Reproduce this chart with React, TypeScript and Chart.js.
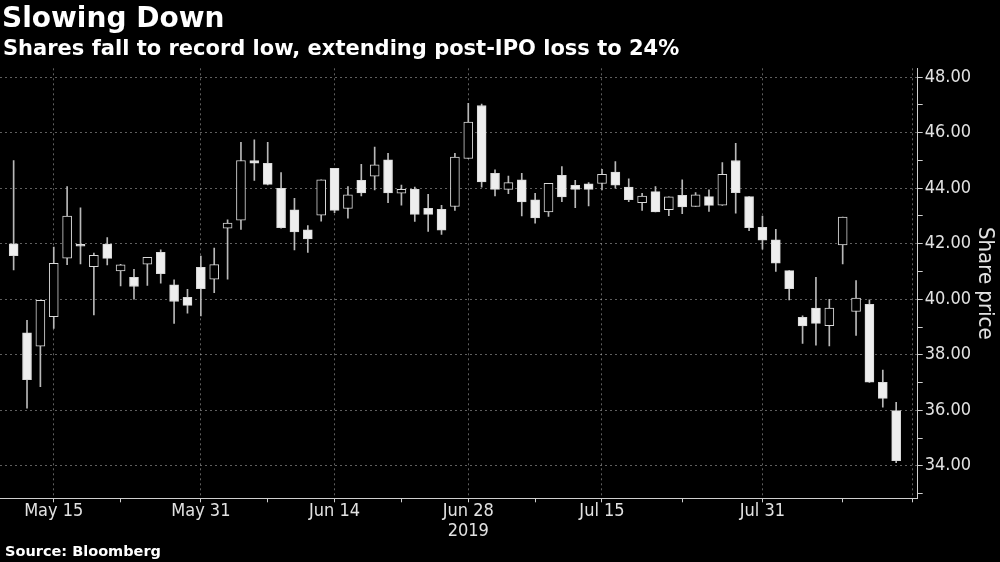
import React, { useEffect, useRef } from "react";
import { Chart, registerables } from "chart.js";

Chart.register(...registerables);

// Trading-day index (0 = May 10, 2019 ... 66 = Aug 14, 2019)
const dayIndex = [
  0, 1, 2, 3, 4, 5, 6, 7, 8, 9, 10, 11, 12, 13, 14, 15, 16, 17, 18, 19, 20, 21, 22,
  23, 24, 25, 26, 27, 28, 29, 30, 31, 32, 33, 34, 35, 36, 37, 38, 39, 40, 41, 42, 43,
  44, 45, 46, 47, 48, 49, 50, 51, 52, 53, 54, 55, 56, 57, 58, 59, 60, 61, 62, 63, 64,
  65, 66,
];

const opens = [
  42.0, 38.79, 38.31, 39.37, 41.48, 41.98, 41.17, 41.99, 41.02, 40.79, 41.26, 41.69,
  40.52, 40.07, 41.15, 40.72, 42.56, 42.85, 45.0, 44.9, 44.0, 43.22, 42.5, 43.03,
  44.72, 43.27, 44.28, 44.43, 45.02, 43.82, 43.96, 43.28, 43.24, 43.34, 45.07, 46.98,
  44.54, 43.96, 44.3, 43.58, 43.15, 44.46, 44.1, 44.16, 44.17, 44.58, 44.04, 43.48,
  43.88, 43.23, 43.74, 43.34, 43.7, 43.39, 45.0, 43.7, 42.59, 42.14, 41.03, 39.35,
  39.68, 39.05, 41.96, 39.56, 39.82, 37.01, 35.99,
];

const highs = [
  45.0, 39.24, 39.96, 41.88, 44.06, 43.29, 41.66, 42.22, 41.26, 41.08, 41.51, 41.78,
  40.7, 40.36, 41.56, 41.84, 42.86, 45.65, 45.74, 45.65, 44.56, 43.64, 42.65, 44.3,
  44.72, 44.06, 44.86, 45.48, 45.26, 44.11, 44.04, 43.78, 43.38, 45.26, 47.06, 47.03,
  44.66, 44.44, 44.54, 43.82, 44.18, 44.78, 44.28, 44.2, 44.68, 44.96, 44.34, 43.82,
  44.06, 43.69, 44.3, 43.84, 43.94, 44.92, 45.62, 43.7, 43.0, 42.52, 41.03, 39.4,
  40.79, 40.0, 42.96, 40.67, 39.98, 37.45, 36.29,
];

const lows = [
  41.06, 36.08, 36.85, 38.95, 41.25, 41.27, 39.44, 41.24, 40.48, 40.0, 40.5, 40.58,
  39.13, 39.5, 39.4, 40.24, 40.72, 42.52, 44.28, 44.12, 42.56, 41.78, 41.69, 42.81,
  43.12, 42.92, 43.72, 43.94, 43.48, 43.39, 42.8, 42.44, 42.34, 43.2, 45.07, 44.04,
  43.72, 43.8, 43.0, 42.74, 42.98, 43.52, 43.3, 43.36, 43.94, 44.0, 43.52, 43.2,
  43.15, 43.01, 43.08, 43.34, 43.16, 43.38, 43.1, 42.47, 41.8, 41.0, 39.98, 38.41,
  38.35, 38.32, 41.27, 38.7, 37.0, 36.11, 34.11,
];

const closes = [
  41.57, 37.1, 39.96, 41.29, 43.0, 41.91, 41.58, 41.47, 41.24, 40.46, 41.51, 40.92,
  39.92, 39.78, 40.38, 41.25, 42.74, 45.0, 44.9, 44.14, 42.58, 42.43, 42.17, 44.3,
  43.2, 43.76, 43.83, 44.84, 43.83, 43.96, 43.06, 43.06, 42.49, 45.12, 46.38, 44.23,
  43.96, 44.2, 43.51, 42.93, 44.18, 43.69, 43.96, 43.96, 44.5, 44.11, 43.59, 43.72,
  43.15, 43.69, 43.33, 43.76, 43.38, 44.5, 43.84, 42.58, 42.13, 41.3, 40.38, 39.04,
  39.13, 39.68, 42.96, 40.04, 37.01, 36.43, 34.19,
];

// X axis ticks (trading-day positions)
const xMajorTicks = [3, 14, 24, 34, 44, 56, 67.2];
const xMajorLabels: (string | string[])[] = [
  "May 15",
  "May 31",
  "Jun 14",
  ["Jun 28", "2019"],
  "Jul 15",
  "Jul 31",
  "",
];
const xMinorTicks = [8, 19, 29, 39, 50, 62];

// Y axis ticks
const yTickValues = [33, 34, 35, 36, 37, 38, 39, 40, 41, 42, 43, 44, 45, 46, 47, 48];
const yLabeledTicks = [34, 36, 38, 40, 42, 44, 46, 48];

const titleText = "Slowing Down";
const subtitleText = "Shares fall to record low, extending post-IPO loss to 24%";
const sourceText = "Source: Bloomberg";
const yAxisTitle = "Share price";

const GRID = "rgba(190,190,190,0.5)";
const AXIS = "#cfcfcf";
const LABEL = "#e2e2e2";
const TICK_FONT = "'DejaVu Sans Condensed', 'DejaVu Sans', sans-serif";
const HEAD_FONT = "'DejaVu Sans', sans-serif";

export default function App() {
  const canvasRef = useRef<HTMLCanvasElement | null>(null);

  useEffect(() => {
    const canvas = canvasRef.current;
    if (!canvas) return;

    const wickData = dayIndex.map((d, i) => ({ x: d, y: [lows[i], highs[i]] }));
    const bodyData = dayIndex.map((d, i) => ({ x: d, y: [opens[i], closes[i]] }));
    const bodyFill = dayIndex.map((_, i) => (closes[i] >= opens[i] ? "#000000" : "#eeeeee"));

    const xTicksAll = [...xMajorTicks, ...xMinorTicks].sort((a, b) => a - b);

    const chart = new Chart(canvas, {
      type: "bar",
      data: {
        datasets: [
          {
            label: "body",
            data: bodyData as any,
            backgroundColor: bodyFill,
            borderColor: "#d9d9d9",
            borderWidth: 1,
            borderSkipped: false,
            barThickness: 9,
            grouped: false,
            order: 1,
          } as any,
          {
            label: "wick",
            data: wickData as any,
            backgroundColor: "#b8b8b8",
            borderWidth: 0,
            barThickness: 1,
            grouped: false,
            order: 2,
          } as any,
        ],
      },
      options: {
        responsive: false,
        animation: false,
        devicePixelRatio: 1,
        layout: { padding: { top: 68.3, left: 0, right: 0, bottom: 0 } },
        plugins: {
          legend: { display: false },
          tooltip: { enabled: false },
          title: { display: false },
        },
        scales: {
          x: {
            type: "linear",
            position: "bottom",
            offset: false,
            min: -1.02,
            max: 67.61,
            afterBuildTicks: (scale: any) => {
              scale.ticks = xTicksAll.map((v) => ({ value: v }));
            },
            afterFit: (scale: any) => {
              scale.height = 63.7;
            },
            ticks: {
              autoSkip: false,
              maxRotation: 0,
              minRotation: 0,
              padding: -1,
              color: LABEL,
              font: { family: TICK_FONT, size: 18, lineHeight: 1.1 },
              callback: (value: any) => {
                const k = xMajorTicks.indexOf(Number(value));
                return k >= 0 ? (xMajorLabels[k] as any) : "";
              },
            },
            grid: {
              offset: false,
              drawOnChartArea: true,
              drawTicks: true,
              tickLength: 4,
              lineWidth: 1,
              color: (ctx: any) =>
                ctx.tick && xMajorTicks.includes(ctx.tick.value) ? GRID : "rgba(0,0,0,0)",
              tickColor: AXIS,
            },
            border: { display: true, color: AXIS, width: 1, dash: [2, 3] },
          },
          y: {
            type: "linear",
            position: "right",
            min: 32.83,
            max: 48.32,
            afterBuildTicks: (scale: any) => {
              scale.ticks = yTickValues.map((v) => ({ value: v }));
            },
            afterFit: (scale: any) => {
              scale.width = 82.3;
            },
            ticks: {
              padding: 2,
              color: LABEL,
              font: { family: TICK_FONT, size: 18 },
              callback: (value: any) =>
                yLabeledTicks.includes(Number(value)) ? Number(value).toFixed(2) : "",
            },
            grid: {
              drawOnChartArea: true,
              drawTicks: true,
              tickLength: 5,
              lineWidth: 1,
              color: (ctx: any) =>
                ctx.tick && yLabeledTicks.includes(ctx.tick.value) ? GRID : "rgba(0,0,0,0)",
              tickColor: AXIS,
            },
            border: { display: true, color: AXIS, width: 1, dash: [2, 3] },
            title: {
              display: true,
              text: yAxisTitle,
              color: LABEL,
              font: { family: TICK_FONT, size: 22 },
              padding: { top: 2, bottom: 0 },
            },
          },
        },
      } as any,
    });

    return () => {
      chart.destroy();
    };
  }, []);

  return (
    <div
      style={{
        position: "fixed",
        left: 0,
        top: 0,
        width: 1000,
        height: 562,
        background: "#000",
        overflow: "hidden",
      }}
    >
      <canvas
        ref={canvasRef}
        width={1000}
        height={562}
        style={{ position: "absolute", left: 0, top: 0, width: 1000, height: 562 }}
      />
      <div
        style={{
          position: "absolute",
          left: 2,
          top: 1,
          color: "#ffffff",
          fontFamily: HEAD_FONT,
          fontWeight: "bold",
          fontSize: 28,
          lineHeight: "33px",
          whiteSpace: "nowrap",
        }}
      >
        {titleText}
      </div>
      <div
        style={{
          position: "absolute",
          left: 3,
          top: 36,
          color: "#ffffff",
          fontFamily: HEAD_FONT,
          fontWeight: "bold",
          fontSize: 21,
          lineHeight: "24px",
          whiteSpace: "nowrap",
        }}
      >
        {subtitleText}
      </div>
      <div
        style={{
          position: "absolute",
          left: 5,
          top: 542,
          color: "#ffffff",
          fontFamily: HEAD_FONT,
          fontWeight: "bold",
          fontSize: 14.5,
          lineHeight: "18px",
          whiteSpace: "nowrap",
        }}
      >
        {sourceText}
      </div>
    </div>
  );
}
